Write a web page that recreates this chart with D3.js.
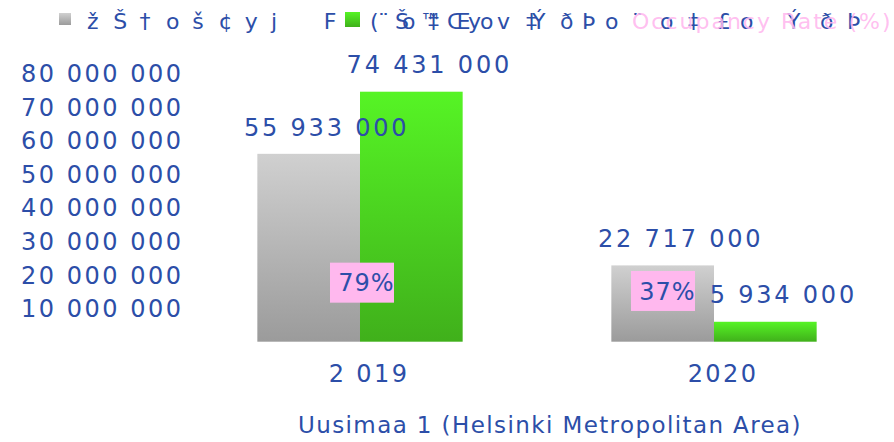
<!DOCTYPE html>
<html>
<head>
<meta charset="utf-8">
<script src="https://cdn.jsdelivr.net/npm/d3@7/dist/d3.min.js"></script>
<style>
  html, body { margin: 0; padding: 0; background: #ffffff; }
  svg { display: block; }
  text { font-family: "DejaVu Sans", sans-serif; }
</style>
</head>
<body>
<svg id="chart" width="894" height="442"></svg>
<script>
// ---- data ----
const categories = ["2019", "2020"];
const categoryLabels = ["2 019", "2020"];
const seriesNames = ["žŠ†oš¢yj F", "(¨Šo™‡Œyov‡ÝðÞo¨o‡£oÝðÞ", "Occupancy Rate (%)"];
const grayValues = [55933000, 22717000];
const greenValues = [74431000, 5934000];
const occupancyRates = [79, 37];
const yTickValues = [10000000, 20000000, 30000000, 40000000, 50000000, 60000000, 70000000, 80000000];
const axisTitle = "Uusimaa 1 (Helsinki Metropolitan Area)";

// ---- layout ----
const W = 894, H = 442;
const blue = "#2c4ea8";
const pink = "#ffb8ee";
const locale = d3.formatLocale({decimal: ".", thousands: " ", grouping: [3], currency: ["", ""]});
const fmt = locale.format(",");

const svg = d3.select("#chart");
const defs = svg.append("defs");

function vGrad(id, top, bottom) {
  const g = defs.append("linearGradient").attr("id", id)
    .attr("x1", 0).attr("y1", 0).attr("x2", 0).attr("y2", 1);
  g.append("stop").attr("offset", "0%").attr("stop-color", top);
  g.append("stop").attr("offset", "100%").attr("stop-color", bottom);
}
vGrad("gGray", "#d0d0d0", "#9b9b9b");
vGrad("gGreen", "#56f425", "#40b01b");

const x = d3.scaleBand().domain(categories).range([183, 891]).paddingInner(0.42).paddingOuter(0.21);
const sub = d3.scaleBand().domain([0, 1]).range([0, x.bandwidth()]);
const y = d3.scaleLinear().domain([0, 80000000]).range([341.7, 73]);
const occY = d3.scaleLinear().domain([0, 100]).range([298.3, 278.5]);

// y axis
const yAxis = d3.axisLeft(y).tickValues(yTickValues).tickFormat(fmt).tickSize(0).tickPadding(0);
const yg = svg.append("g").attr("transform", "translate(183.5,0)").call(yAxis);
yg.select(".domain").remove();
yg.selectAll("text")
  .attr("font-family", "DejaVu Sans").attr("font-size", 24).attr("letter-spacing", 2.5)
  .attr("fill", blue).attr("dy", "0.36em");

// bars
const series = [
  {vals: grayValues, fill: "url(#gGray)"},
  {vals: greenValues, fill: "url(#gGreen)"}
];
series.forEach((s, si) => {
  svg.append("g").selectAll("rect").data(categories).join("rect")
    .attr("x", d => x(d) + sub(si))
    .attr("width", sub.bandwidth())
    .attr("y", (d, i) => y(s.vals[i]))
    .attr("height", (d, i) => y(0) - y(s.vals[i]))
    .attr("fill", s.fill);
});

// value labels
series.forEach((s, si) => {
  svg.append("g").selectAll("text").data(categories).join("text")
    .attr("x", d => x(d) + sub(si) + sub.bandwidth() / 2 + 18)
    .attr("y", (d, i) => y(s.vals[i]) - 18.3)
    .attr("text-anchor", "middle")
    .attr("font-size", 24).attr("letter-spacing", 2.8)
    .attr("fill", blue)
    .text((d, i) => fmt(s.vals[i]));
});

// occupancy labels
const occNudge = [2, -51];
const og = svg.append("g").selectAll("g").data(categories).join("g")
  .attr("transform", (d, i) => `translate(${x(d) + x.bandwidth() / 2 + occNudge[i]},${occY(occupancyRates[i])})`);
og.append("rect").attr("x", -32).attr("y", -20).attr("width", 64).attr("height", 40).attr("fill", pink);
og.append("text").attr("x", 4.5).attr("y", 8.7).attr("text-anchor", "middle")
  .attr("font-size", 24).attr("letter-spacing", 1)
  .attr("fill", blue).text((d, i) => occupancyRates[i] + "%");

// x tick labels
svg.append("g").selectAll("text").data(categories).join("text")
  .attr("x", d => x(d) + x.bandwidth() / 2 + 9)
  .attr("y", 382)
  .attr("text-anchor", "middle")
  .attr("font-size", 24).attr("letter-spacing", 2.4)
  .attr("fill", blue)
  .text((d, i) => categoryLabels[i]);

// axis title
svg.append("text").attr("x", 550).attr("y", 433).attr("text-anchor", "middle")
  .attr("font-size", 23).attr("letter-spacing", 1.4)
  .attr("fill", blue).text(axisTitle);

// legend
const lg = svg.append("g");
lg.append("rect").attr("x", 59).attr("y", 13).attr("width", 12).attr("height", 12).attr("fill", "url(#gGray)");
lg.append("rect").attr("x", 345).attr("y", 12).attr("width", 15).attr("height", 15).attr("fill", "url(#gGreen)");
const grayXs = Array.from(seriesNames[0], (c, i) => 87 + i * 26.3);
lg.append("text").attr("x", grayXs.join(" ")).attr("y", 29)
  .attr("font-size", 22).attr("fill", blue).text(seriesNames[0]);
const greenXs = [370, 378, 395, 402, 420, 428, 447, 468, 480, 497, 526, 532, 560, 582, 605, 632, 660, 688, 717, 740, 787, 820, 847];
lg.append("text").attr("x", greenXs.join(" ")).attr("y", 29)
  .attr("font-size", 22).attr("fill", blue).text(seriesNames[1]);
lg.append("text").attr("x", 632).attr("y", 29)
  .attr("font-size", 22).attr("letter-spacing", 2).attr("fill", pink).attr("fill-opacity", 0.9)
  .text(seriesNames[2]);
</script>
</body>
</html>
